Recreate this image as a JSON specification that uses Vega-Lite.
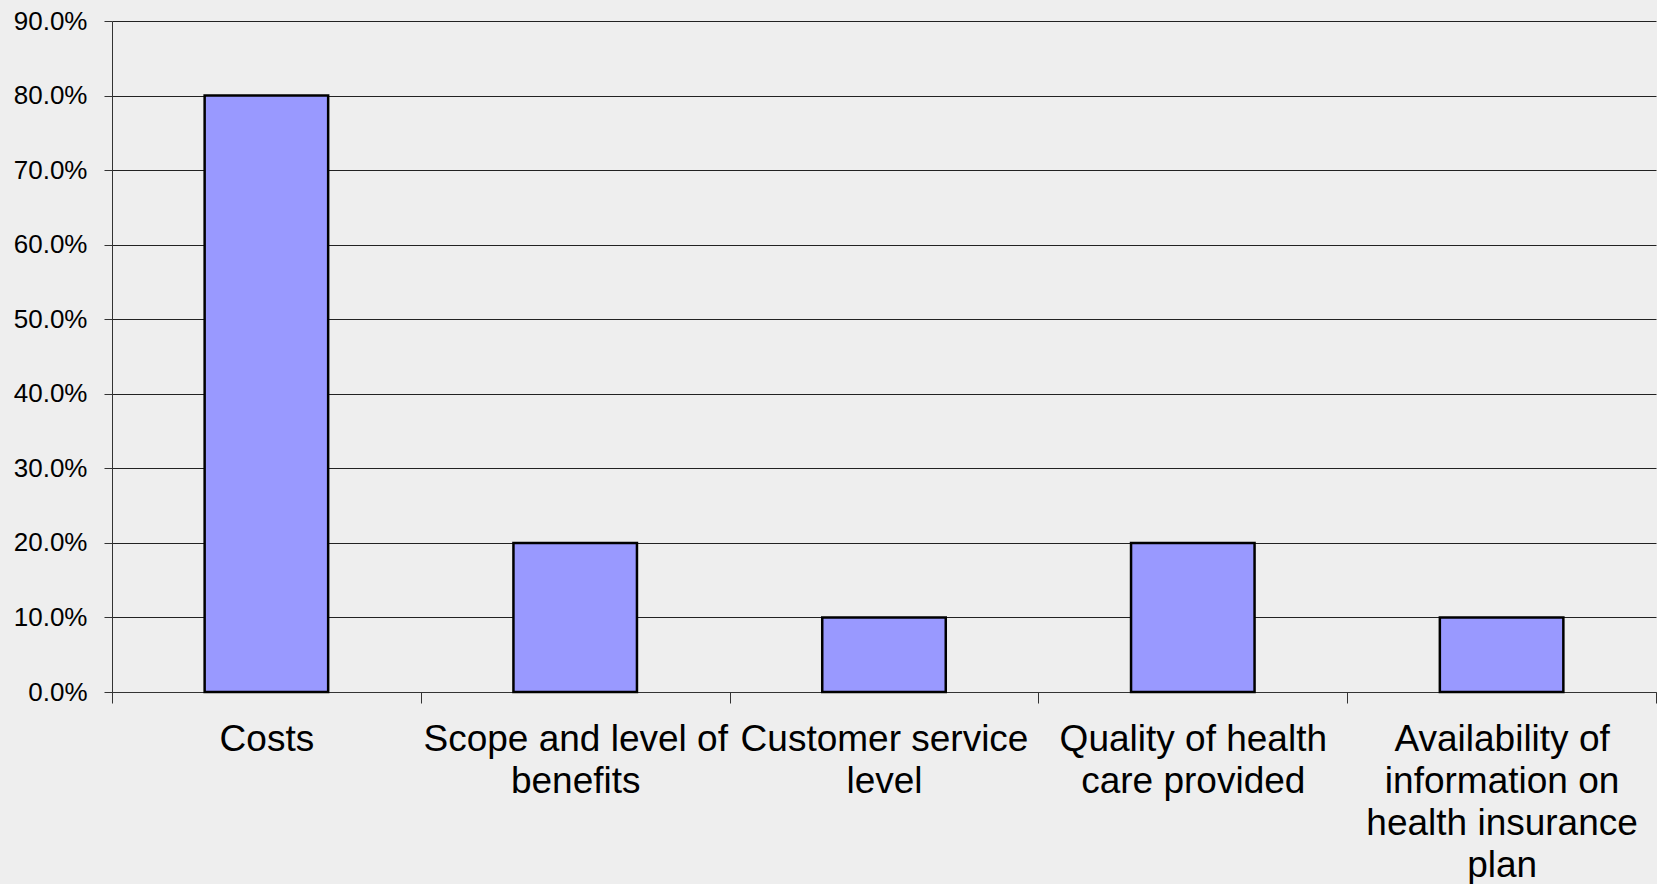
{
  "$schema": "https://vega.github.io/schema/vega-lite/v6.json",
  "width": 1544,
  "height": 671,
  "autosize": "none",
  "padding": {"left": 112, "top": 21, "right": 1, "bottom": 192},
  "background": "#eeeeee",
  "config": {
    "view": {"stroke": null},
    "font": "Liberation Sans"
  },
  "data": {
    "values": [
      {"category": "Costs", "share": 0.8},
      {"category": "Scope and level of benefits", "share": 0.2},
      {"category": "Customer service level", "share": 0.1},
      {"category": "Quality of health care provided", "share": 0.2},
      {"category": "Availability of information on health insurance plan", "share": 0.1}
    ]
  },
  "mark": {"type": "bar", "fill": "#9999ff", "stroke": "#000000", "strokeWidth": 2.5, "width": {"band": 0.4}},
  "encoding": {
    "x": {
      "field": "category",
      "type": "nominal",
      "sort": null,
      "scale": {"paddingInner": 0, "paddingOuter": 0},
      "axis": {
        "title": null,
        "labelAngle": 0,
        "labelFont": "Liberation Sans",
        "labelFontSize": 37,
        "labelColor": "#000000",
        "labelLineHeight": 42,
        "labelPadding": 18,
        "labelLimit": 400,
        "tickBand": "extent",
        "tickSize": 11,
        "tickColor": "#333333",
        "domainColor": "#333333",
        "grid": false,
        "labelExpr": "datum.value == 'Scope and level of benefits' ? ['Scope and level of', 'benefits'] : datum.value == 'Customer service level' ? ['Customer service', 'level'] : datum.value == 'Quality of health care provided' ? ['Quality of health', 'care provided'] : datum.value == 'Availability of information on health insurance plan' ? ['Availability of', 'information on', 'health insurance', 'plan'] : datum.value"
      }
    },
    "y": {
      "field": "share",
      "type": "quantitative",
      "scale": {"domain": [0, 0.9], "nice": false},
      "axis": {
        "title": null,
        "values": [0, 0.1, 0.2, 0.3, 0.4, 0.5, 0.6, 0.7, 0.8, 0.9],
        "format": ".1%",
        "labelFont": "Liberation Sans",
        "labelFontSize": 26,
        "labelColor": "#000000",
        "labelPadding": 17,
        "tickSize": 8,
        "tickColor": "#333333",
        "domainColor": "#333333",
        "grid": true,
        "gridColor": "#222222",
        "gridOpacity": 1,
        "gridWidth": 1
      }
    }
  }
}
